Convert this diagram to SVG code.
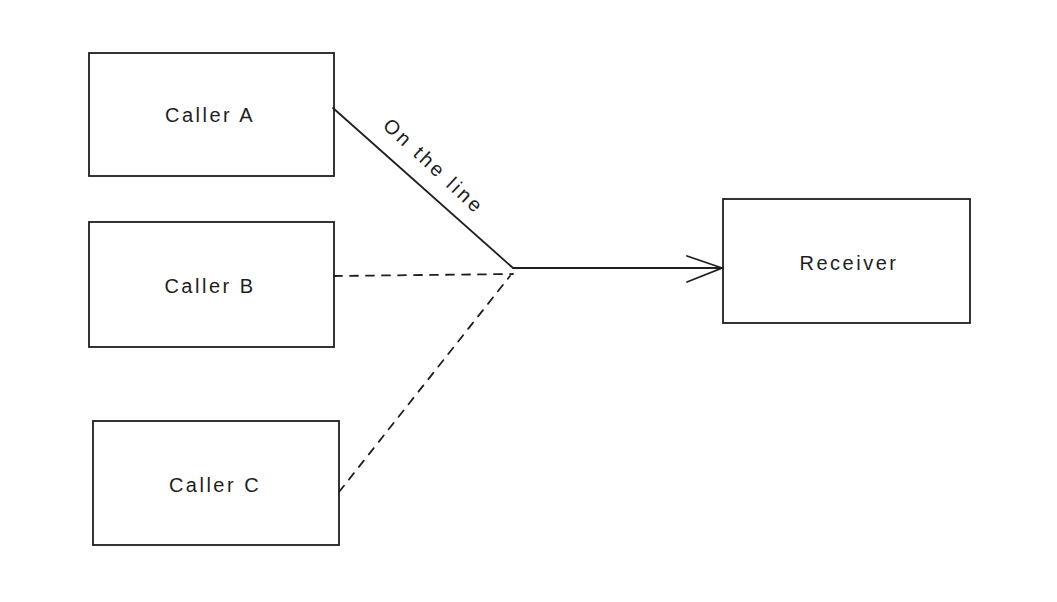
<svg xmlns="http://www.w3.org/2000/svg" width="1057" height="602" viewBox="0 0 1057 602">
<style>
.box{fill:#fff;stroke:#1e1e1e;stroke-width:1.8}
.lbl{font-family:"Liberation Sans",Arial,sans-serif;font-size:20px;letter-spacing:2.5px;fill:#1e1e1e;text-anchor:middle;dominant-baseline:central}
.ln{fill:none;stroke:#1e1e1e;stroke-width:1.8;stroke-linecap:round}
.dash{stroke-dasharray:8 8}
</style>
<rect width="1057" height="602" fill="#fff"/>
<g id="callerA"><rect class="box" x="89" y="53" width="245" height="123"/><text class="lbl" x="210" y="115">Caller A</text></g>
<g id="callerB"><rect class="box" x="89" y="222" width="245" height="125"/><text class="lbl" x="210" y="286">Caller B</text></g>
<g id="callerC"><rect class="box" x="93" y="421" width="246" height="124"/><text class="lbl" x="215" y="485">Caller C</text></g>
<g id="receiver"><rect class="box" x="723" y="199" width="247" height="124"/><text class="lbl" x="849" y="263">Receiver</text></g>
<g id="connectors">
<polyline class="ln" points="333,108 513,268 722,268"/>
<path class="ln" d="M687,256 L722,268 L687,282"/>
<line class="ln dash" x1="334" y1="276" x2="513" y2="274"/>
<line class="ln dash" x1="339" y1="492" x2="510" y2="276"/>
<text class="lbl" transform="translate(434,166) rotate(43)" style="font-size:20px;letter-spacing:3px">On the line</text>
</g>
</svg>
